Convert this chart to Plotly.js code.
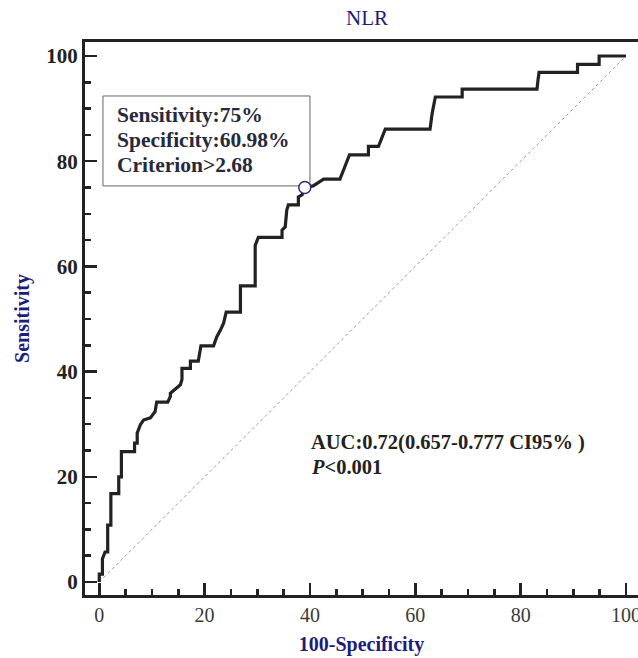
<!DOCTYPE html>
<html>
<head>
<meta charset="utf-8">
<script src="https://cdn.plot.ly/plotly-3.0.1.min.js"></script>
<style>html,body{margin:0;padding:0;background:#fff;}#chart{width:638px;height:658px;}</style>
</head>
<body>
<div id="chart"></div>
<script>
// ROC curve vertices (100-Specificity, Sensitivity)
const fpr = [0,0,0.6,0.6,1.1,1.6,1.6,2.2,2.2,3.7,3.7,4.2,4.2,6.7,6.7,7.2,7.2,7.8,8.4,9.7,10.6,10.9,13.0,13.5,13.5,15.4,15.7,15.7,17.3,17.3,18.8,19.3,21.7,22.3,23.0,23.6,24.1,26.8,26.8,29.6,29.6,30.2,34.7,34.7,35.3,35.6,35.9,37.8,37.8,38.5,39.02,40.6,42.6,45.7,46.6,47.5,51.1,51.1,53.0,53.6,54.3,62.8,63.2,63.8,68.9,68.9,83.1,83.3,83.5,90.8,90.8,94.9,94.9,100];
const tpr = [0,1.5,1.5,4.4,5.7,5.7,10.8,10.8,16.8,16.8,20.0,20.0,24.8,24.8,26.4,26.4,28.3,29.9,30.8,31.2,32.4,34.2,34.2,35.3,35.9,37.5,38.5,40.6,40.6,42.0,42.0,44.9,44.9,46.6,47.9,49.2,51.3,51.3,56.3,56.3,64.0,65.5,65.5,66.9,67.5,70.7,71.7,71.7,73.2,73.6,75,75.3,76.6,76.6,78.9,81.2,81.2,82.8,82.8,84.4,86.1,86.1,89.1,92.2,92.2,93.7,93.7,95.5,96.9,96.9,98.4,98.4,100,100];
const diagX = [0,100];
const diagY = [0,100];
const cutX = [39.02];
const cutY = [75];
const tickVals = [0,20,40,60,80,100];
const tickText = ["0","20","40","60","80","100"];
const boxLines = ["Sensitivity:75%","Specificity:60.98%","Criterion&gt;2.68"];
const aucLines = ["AUC:0.72(0.657-0.777 CI95% )","<i>P</i>&lt;0.001"];
const titleText = "NLR";
const xTitle = "100-Specificity";
const yTitle = "Sensitivity";

const serif = "Liberation Serif, Times New Roman, serif";
const navy = "#1c1c7c";

const traces = [
  {x: diagX, y: diagY, mode: "lines", line: {color: "#9a9a9a", width: 1, dash: "dot"}, hoverinfo: "skip"},
  {x: fpr, y: tpr, mode: "lines", line: {color: "#222", width: 3.2}, hoverinfo: "skip"},
  {x: cutX, y: cutY, mode: "markers", marker: {symbol: "circle", size: 12, color: "#fff", line: {color: "#2a2a80", width: 1.5}}, hoverinfo: "skip"}
];

const annotations = [];
const boxY = [88.7, 84.0, 79.3];
boxLines.forEach((t, i) => annotations.push({x: 2.9, y: boxY[i], xref: "x", yref: "y", text: "<b>" + t + "</b>", showarrow: false, xanchor: "left", yanchor: "middle", font: {family: serif, size: 21.5, color: "#262a3c"}}));
const aucY = [26.6, 21.8];
aucLines.forEach((t, i) => annotations.push({x: 39.9, y: aucY[i], xref: "x", yref: "y", text: "<b>" + t + "</b>", showarrow: false, xanchor: "left", yanchor: "middle", font: {family: serif, size: 20.5, color: "#222"}}));

const layout = {
  width: 638, height: 658,
  margin: {l: 85, r: 0, t: 42, b: 63},
  paper_bgcolor: "#fff", plot_bgcolor: "#fff",
  showlegend: false,
  title: {text: titleText, x: 0.51, xref: "paper", xanchor: "center", y: 1 - 18/658, yref: "container", yanchor: "middle", font: {family: serif, size: 21, color: navy}},
  xaxis: {
    range: [-2.71, 102.28], showgrid: false, zeroline: false,
    tickvals: tickVals, ticktext: tickText, ticklabeloverflow: "allow",
    ticks: "inside", ticklen: 12, tickwidth: 2.5, tickcolor: "#222",
    minor: {dtick: 5, tick0: 0, ticks: "inside", ticklen: 6, tickwidth: 2.5, tickcolor: "#222", showgrid: false},
    showline: true, linewidth: 3, linecolor: "#222", mirror: true,
    tickfont: {family: serif, size: 20, color: "#3a3a3a"},
    title: {text: "<b>" + xTitle + "</b>", standoff: 12, font: {family: serif, size: 20, color: navy}}
  },
  yaxis: {
    range: [-2.47, 102.66], showgrid: false, zeroline: false,
    tickvals: tickVals, ticktext: tickText,
    ticks: "inside", ticklen: 12, tickwidth: 2.5, tickcolor: "#222",
    minor: {dtick: 5, tick0: 0, ticks: "inside", ticklen: 6, tickwidth: 2.5, tickcolor: "#222", showgrid: false},
    showline: true, linewidth: 3, linecolor: "#222",
    tickfont: {family: serif, size: 21, color: "#222", weight: "bold"},
    title: {text: "<b>" + yTitle + "</b>", standoff: 12, font: {family: serif, size: 20, color: navy}}
  },
  shapes: [
    {type: "rect", xref: "x", yref: "y", x0: 0.7, x1: 40.0, y0: 75.3, y1: 92.4, line: {color: "#666", width: 1}, fillcolor: "rgba(0,0,0,0)", layer: "below"}
  ],
  annotations: annotations
};

Plotly.newPlot("chart", traces, layout, {displayModeBar: false, staticPlot: true});
</script>
</body>
</html>
